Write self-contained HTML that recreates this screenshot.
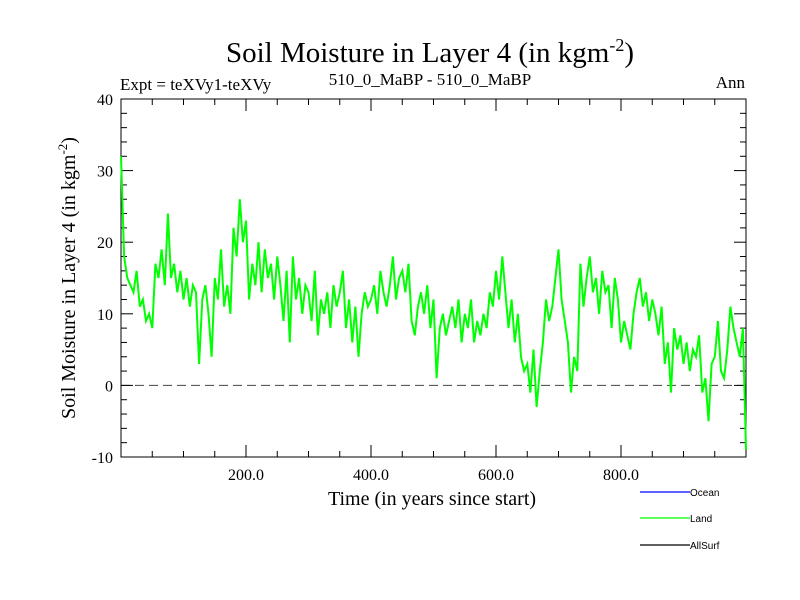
<!DOCTYPE html>
<html><head><meta charset="utf-8"><style>
body{margin:0;background:#fff;}
svg{display:block;font-family:"Liberation Serif",serif;}
</style></head><body>
<svg id="chart" width="800" height="600">
<rect x="0" y="0" width="800" height="600" fill="#fff"/>
<text x="430" y="62" text-anchor="middle" font-size="29">Soil Moisture in Layer 4 (in kgm<tspan dy="-11" font-size="18">-2</tspan><tspan dy="11">)</tspan></text>
<text x="120" y="90" font-size="17">Expt = teXVy1-teXVy</text>
<text x="430" y="85" text-anchor="middle" font-size="17">510_0_MaBP - 510_0_MaBP</text>
<text x="745" y="88" text-anchor="end" font-size="17">Ann</text>
<text transform="translate(75,278) rotate(-90)" text-anchor="middle" font-size="20">Soil Moisture in Layer 4 (in kgm<tspan dy="-8" font-size="13">-2</tspan><tspan dy="8">)</tspan></text>
<text x="432" y="505" text-anchor="middle" font-size="20">Time (in years since start)</text>
<g id="axes"></g>
<g id="series"></g>
<g id="legend" font-family="Liberation Sans, sans-serif" font-size="10">
<line x1="640" y1="492" x2="690" y2="492" stroke="#0000ff" stroke-width="1.2"/>
<text x="690" y="496">Ocean</text>
<line x1="640" y1="518" x2="690" y2="518" stroke="#00ff00" stroke-width="1.2"/>
<text x="690" y="522">Land</text>
<line x1="640" y1="545" x2="690" y2="545" stroke="#000" stroke-width="1.2"/>
<text x="690" y="549">AllSurf</text>
</g>
</svg>
<script>
const yTicks=[-10,0,10,20,30,40];
const xTicks=[200,400,600,800];
const xTickLabels=["200.0","400.0","600.0","800.0"];
const years=[];for(let i=0;i<=200;i++)years.push(i*5);
const landValues=[32,18,15,14,13,16,11,12,9,10,
8,17,15,19,14,24,15,17,13,16,
12,15,11,14,13,3,12,14,10,4,
15,12,19,11,14,10,22,18,26,20,
23,12,17,14,20,13,19,15,17,12,
18,14,9,16,6,18,12,15,10,14,
13,9,16,7,12,10,13,8,14,11,
13,16,8,12,6,11,4,10,13,11,
12,14,10,16,13,11,14,18,12,15,
16,13,17,9,7,11,13,10,14,8,
12,1,8,10,7,9,11,8,12,6,
10,8,12,6,9,7,10,8,13,11,
16,12,18,13,8,12,6,10,4,2,
3,-1,5,-3,2,6,12,9,11,15,
19,12,9,6,-1,4,2,17,11,15,
18,13,15,10,16,13,14,8,15,12,
6,9,7,5,10,13,15,11,13,9,
12,10,7,11,3,6,-1,8,5,7,
3,6,2,5,4,7,-1,1,-5,3,
4,9,2,1,5,11,8,6,4,8,
-9];
const L=121,R=746,T=99,B=457;
const xs=v=>L+(v-0)/1000*(R-L);
const ys=v=>B-(v+10)/50*(B-T);
const NS="http://www.w3.org/2000/svg";
function mk(tag,attrs,parent){const e=document.createElementNS(NS,tag);for(const k in attrs)e.setAttribute(k,attrs[k]);parent.appendChild(e);return e;}
const ax=document.getElementById('axes');
const frame=mk('rect',{x:L,y:T,width:R-L,height:B-T,fill:'none',stroke:'#000','stroke-width':1},ax);


const zl=mk('line',{x1:L,x2:R,y1:ys(0),y2:ys(0),stroke:'#444','stroke-width':1,'stroke-dasharray':'9,5'},ax);


for(let v=-10;v<=40;v+=2){const major=v%10===0;const len=major?12:6;
mk('line',{x1:L,x2:L+len,y1:ys(v),y2:ys(v),stroke:'#000'},ax);
mk('line',{x1:R,x2:R-len,y1:ys(v),y2:ys(v),stroke:'#000'},ax);}
yTicks.forEach(v=>{const t=mk('text',{x:L-8,y:ys(v)+6,'text-anchor':'end','font-size':16},ax);t.textContent=v;

});
for(let v=50;v<1000;v+=50){const major=v%200===0;const len=major?12:6;
mk('line',{x1:xs(v),x2:xs(v),y1:B,y2:B-len,stroke:'#000'},ax);
mk('line',{x1:xs(v),x2:xs(v),y1:T,y2:T+len,stroke:'#000'},ax);}
xTicks.forEach((v,i)=>{const t=mk('text',{x:xs(v),y:B+23,'text-anchor':'middle','font-size':16},ax);t.textContent=xTickLabels[i];

});
const sg=document.getElementById('series');
const pts=years.map((y,i)=>xs(y).toFixed(1)+','+ys(landValues[i]).toFixed(1)).join(' ');
const pl=mk('polyline',{points:pts,fill:'none',stroke:'#00ff00','stroke-width':2,'stroke-linejoin':'miter'},sg);


</script>
</body></html>
